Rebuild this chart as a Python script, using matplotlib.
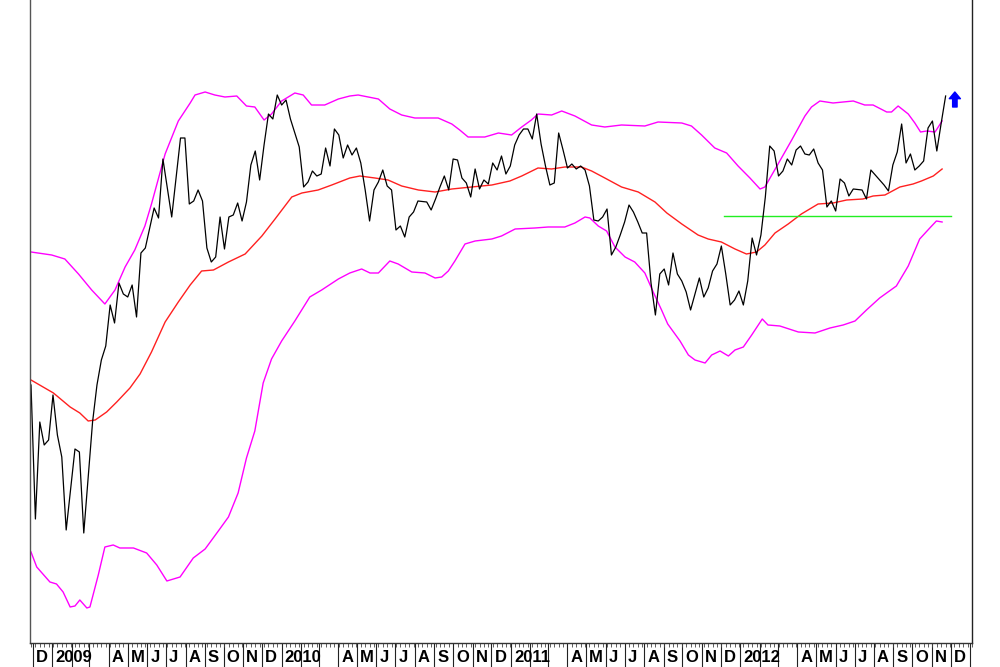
import numpy as np
import pandas as pd
import matplotlib
matplotlib.use("Agg")
import matplotlib.pyplot as plt
import matplotlib.dates as mdates
import matplotlib.transforms as mtransforms

# weekly closes, x = weeks since first bar (2008-11-28)
START = pd.Timestamp("2008-11-28")

price_week = [0, 1, 2, 3, 4, 5, 6, 7, 8, 10, 11, 12, 14, 15, 16, 17, 18, 19, 20, 21,
              22, 23, 24, 25, 26, 28, 29, 30, 32, 34, 35, 36, 37, 38, 39, 40, 41, 42, 43, 44,
              45, 46, 47, 48, 49, 50, 51, 52, 53, 54, 55, 56, 57, 58, 59, 61, 62, 63, 64, 65,
              66, 67, 68, 69, 70, 71, 72, 73, 74, 75, 76, 77, 78, 79, 80, 81, 82, 83, 84, 85,
              86, 87, 88, 90, 91, 92, 93, 94, 95, 96, 97, 98, 99, 100, 101, 102, 103, 104, 105, 106,
              107, 108, 109, 110, 111, 112, 113, 114, 115, 116, 117, 118, 119, 120, 121, 122, 123, 124, 125, 126,
              127, 128, 129, 130, 131, 132, 133, 134, 135, 136, 137, 138, 139, 140, 141, 142, 143, 144, 145, 146,
              147, 148, 149, 150, 151, 152, 153, 154, 155, 156, 157, 158, 159, 160, 161, 162, 163, 164, 165, 166,
              167, 168, 169, 170, 171, 172, 173, 174, 175, 176, 177, 178, 179, 180, 181, 182, 183, 184, 185, 186,
              187, 189, 190, 191, 192, 193, 194, 195, 196, 197, 198, 199, 200, 201, 202, 203, 204, 205, 206, 207,
              208]
price_val = [25.8, 12.4, 22.1, 19.8, 20.3, 24.8, 20.8, 18.6, 11.3, 19.4, 19.1, 11.0, 22.1, 25.8, 28.3, 29.7, 33.8, 32.0, 36.0, 34.9,
             34.6, 35.8, 32.6, 39.0, 39.5, 43.5, 42.5, 48.4, 42.6, 50.5, 50.5, 43.9, 44.2, 45.3, 44.2, 39.5, 38.1, 38.6, 42.6, 39.4,
             42.6, 42.8, 44.0, 42.2, 44.1, 47.8, 49.2, 46.3, 49.8, 52.9, 52.4, 54.8, 53.8, 54.3, 52.4, 49.6, 45.6, 46.1, 47.2, 46.7,
             46.9, 49.5, 47.7, 51.4, 50.8, 48.5, 49.8, 48.8, 49.5, 48.0, 45.3, 42.2, 45.3, 46.1, 47.3, 45.7, 45.3, 41.3, 41.7, 40.6,
             42.6, 43.1, 44.2, 44.1, 43.3, 44.4, 45.6, 46.7, 45.3, 48.4, 48.3, 46.5, 46.0, 44.6, 47.4, 45.4, 46.3, 45.9, 48.0, 47.3,
             48.7, 46.9, 47.7, 49.8, 50.8, 51.4, 51.4, 50.4, 52.9, 49.9, 47.7, 45.8, 46.0, 51.0, 49.3, 47.5, 47.9, 47.4, 47.7, 47.3,
             45.7, 42.3, 42.2, 42.6, 43.4, 38.8, 39.6, 40.8, 42.1, 43.8, 43.1, 42.1, 41.0, 41.0, 36.0, 32.8, 36.9, 37.4, 35.8, 39.0,
             36.9, 36.2, 35.1, 33.3, 34.9, 36.5, 34.6, 35.5, 37.2, 37.9, 39.7, 36.9, 33.8, 34.3, 35.2, 33.8, 36.2, 40.5, 38.8, 40.8,
             44.6, 49.7, 49.2, 46.7, 47.2, 48.4, 47.8, 49.3, 49.7, 48.9, 48.8, 49.4, 48.0, 47.3, 43.6, 44.2, 43.2, 46.4, 46.0, 44.7,
             45.4, 45.3, 44.4, 47.3, 46.8, 46.3, 45.8, 45.2, 47.8, 49.1, 51.9, 48.0, 48.9, 47.3, 47.7, 48.2, 51.5, 52.2, 49.2, 52.0,
             54.7]

# moving average (red)
ma_week = [0, 5.1, 8.9, 11.1, 13.0, 14.6, 17.2, 19.5, 22.5, 24.8, 27.4, 30.5, 33.5, 36.2, 38.8, 41.5, 44.9, 48.7,
           52.5, 55.5, 59.3, 61.6, 65.3, 68.4, 72.5, 74.8, 78.2, 81.2, 84.3, 88.1, 91.9, 95.7, 100.2, 104.8,
           108.9, 111.6, 115.3, 118.4, 121.4, 125.2, 127.5, 130.5, 134.3, 138.1, 141.9, 144.6, 148.0, 151.7,
           154.0, 157.0, 160.1, 162.7, 165.0, 166.9, 169.2, 172.2, 175.2, 179.0, 182.4, 185.5, 189.2, 191.5,
           194.2, 197.6, 200.6, 202.5, 205.2, 207.2]
ma_val = [26.3, 25.0, 23.6, 23.0, 22.2, 22.3, 23.1, 24.1, 25.5, 26.9, 29.1, 32.1, 34.1, 35.8, 37.2, 37.3, 38.1, 38.9,
          40.7, 42.4, 44.6, 45.0, 45.3, 45.8, 46.5, 46.7, 46.5, 46.3, 45.7, 45.3, 45.1, 45.4, 45.6, 45.8,
          46.2, 46.7, 47.5, 47.4, 47.6, 47.6, 47.2, 46.5, 45.6, 45.1, 44.1, 43.0, 41.9, 40.8,
          40.4, 40.1, 39.4, 38.9, 39.1, 39.8, 41.0, 41.9, 42.9, 43.9, 44.0, 44.3, 44.4, 44.7,
          44.8, 45.6, 45.9, 46.2, 46.7, 47.4]

# upper / lower envelope (magenta)
upper_week = [0, 4.7, 7.7, 10.8, 13.8, 16.8, 19.1, 21.4, 23.6, 25.9, 27.4, 30.5, 33.5, 36.2, 37.3, 39.6, 41.8,
              44.1, 46.8, 49.0, 50.9, 53.0, 54.7, 57.0, 60.0, 61.9, 63.8, 66.8, 69.9, 72.5, 74.4, 79.0, 81.6,
              84.3, 87.3, 92.6, 95.7, 97.5, 99.4, 103.2, 106.3, 109.3, 111.6, 113.8, 115.3, 118.4, 120.7, 123.7,
              127.5, 130.5, 134.3, 139.6, 142.6, 148.0, 150.2, 152.5, 155.5, 158.2, 160.8, 163.5, 165.8, 166.9,
              169.9, 173.0, 176.0, 177.5, 179.4, 182.4, 187.0, 189.6, 191.5, 194.6, 195.7, 197.2, 199.5, 201.0,
              202.3, 203.7, 205.6, 207.2]
upper_val = [39.1, 38.8, 38.4, 36.9, 35.3, 33.9, 35.3, 37.6, 39.3, 41.7, 43.9, 48.9, 52.2, 54.0, 54.8, 55.1, 54.8,
             54.6, 54.7, 53.7, 53.6, 52.3, 52.9, 54.2, 55.0, 54.8, 53.8, 53.8, 54.4, 54.7, 54.8, 54.4, 53.4,
             52.8, 52.5, 52.5, 51.9, 51.3, 50.6, 50.6, 51.0, 50.8, 51.6, 52.3, 52.9, 52.8, 53.2, 52.7,
             51.8, 51.6, 51.8, 51.7, 52.1, 52.0, 51.7, 50.8, 49.5, 49.0, 47.7, 46.5, 45.4, 45.6,
             47.9, 50.3, 52.7, 53.6, 54.2, 54.0, 54.2, 53.8, 53.8, 53.1, 53.1, 53.7, 52.9, 52.0,
             51.1, 51.2, 51.1, 52.2]
lower_week = [0, 1.3, 4.3, 5.8, 7.3, 8.9, 10.0, 11.1, 12.7, 13.4, 15.3, 16.8, 18.7, 20.2, 23.3, 26.3, 28.6, 30.9,
              33.9, 36.9, 39.6, 42.6, 44.9, 47.1, 49.0, 50.9, 52.8, 54.7, 57.0, 60.0, 63.4, 66.1, 69.9, 72.5,
              75.2, 77.1, 79.0, 81.6, 83.5, 86.6, 89.6, 91.9, 93.4, 94.9, 96.4, 98.7, 101.0, 104.8, 107.0, 110.1,
              114.6, 117.6, 121.4, 123.7, 126.0, 127.1, 129.0, 130.9, 132.8, 135.1, 137.3, 139.6, 141.5, 143.4,
              144.8, 147.6, 149.5, 151.0, 153.3, 154.8, 156.7, 158.6, 160.1, 162.0, 163.9, 166.3, 167.6, 170.3,
              174.5, 178.3, 181.7, 184.7, 187.4, 190.0, 193.0, 196.8, 199.5, 202.1, 204.4, 205.9, 207.2]
lower_val = [9.1, 7.6, 6.1, 5.9, 5.1, 3.6, 3.7, 4.3, 3.5, 3.6, 6.8, 9.6, 9.8, 9.5, 9.5, 9.0, 7.8, 6.2,
             6.6, 8.5, 9.4, 11.2, 12.6, 15.0, 18.5, 21.2, 26.0, 28.4, 30.2, 32.2, 34.6, 35.3, 36.4, 37.0,
             37.4, 37.0, 37.0, 38.2, 37.9, 37.1, 37.0, 36.5, 36.6, 37.2, 38.2, 39.9, 40.2, 40.4, 40.7, 41.4,
             41.5, 41.6, 41.6, 42.0, 42.6, 42.5, 41.7, 41.2, 39.6, 38.6, 38.1, 37.0, 35.1, 33.3,
             31.9, 30.2, 28.8, 28.3, 28.0, 28.8, 29.2, 28.7, 29.3, 29.6, 30.8, 32.4, 31.8, 31.7,
             31.1, 31.0, 31.5, 31.8, 32.2, 33.3, 34.5, 35.7, 37.7, 40.4, 41.5, 42.2, 42.1]

# horizontal support line (green) and buy signal arrow (blue)
support_level = 42.7
support_weeks = [157.6, 209.2]
signal_week = 210.1
signal_span = [53.6, 55.1]


def to_dates(weeks):
    return START + pd.to_timedelta(np.asarray(weeks, dtype=float) * 7, unit="D")


fig = plt.figure(figsize=(10, 6.67), dpi=100)
ax = fig.add_axes([0.030, 0.036, 0.942, 0.964])

ax.plot(to_dates(upper_week), upper_val, color="#FF00FF", lw=1.0)
ax.plot(to_dates(lower_week), lower_val, color="#FF00FF", lw=1.0)
ax.plot(to_dates(ma_week), ma_val, color="#FF2020", lw=1.0)
ax.plot(to_dates(support_weeks), [support_level, support_level], color="#22EE22", lw=1.0)
ax.plot(to_dates(price_week), price_val, color="#000000", lw=0.9)

sig_x = to_dates([signal_week])[0]
ax.annotate("", xy=(sig_x, signal_span[1]), xytext=(sig_x, signal_span[0]),
            arrowprops=dict(arrowstyle="simple,head_length=0.6,head_width=1.0,tail_width=0.4",
                            color="#0000FF", mutation_scale=8, shrinkA=0, shrinkB=0))

x_left = START - pd.Timedelta(days=1.6)
x_right = START + pd.Timedelta(weeks=214)
ax.set_xlim(x_left, x_right)
ax.set_ylim(0, 64.3)
ax.set_yticks([])

# month separators (major) and weekly ticks (minor)
months = pd.date_range("2008-12-01", "2013-01-01", freq="MS")
ax.set_xticks(months)
ax.set_xticklabels([])
weeks_ticks = START + pd.to_timedelta(np.arange(0, 215) * 7, unit="D")
ax.set_xticks(weeks_ticks, minor=True)
ax.tick_params(axis="x", which="major", direction="out", length=17, width=0.8, color="#222222")
ax.tick_params(axis="x", which="minor", direction="out", length=3, width=0.6, color="#444444")

blend = mtransforms.blended_transform_factory(ax.transData, ax.transAxes)
lab_tr = mtransforms.offset_copy(blend, fig=fig, x=3, y=-7, units="dots")
letters = "JFMAMJJASOND"
for m in months:
    if m.month in (2, 3) or m > x_right - pd.Timedelta(days=5):
        continue
    txt = str(m.year) if m.month == 1 else letters[m.month - 1]
    ax.text(mdates.date2num(m), 0, txt, transform=lab_tr, ha="left", va="top",
            fontsize=12, fontweight="bold", family="Liberation Sans", color="#000000")

ax.spines["top"].set_visible(False)
ax.spines["left"].set_color("#555555")
ax.spines["bottom"].set_color("#333333")
ax.spines["right"].set_color("#222222")
for s in ("left", "bottom", "right"):
    ax.spines[s].set_linewidth(1.0)

fig.savefig("out.png", dpi=100)
